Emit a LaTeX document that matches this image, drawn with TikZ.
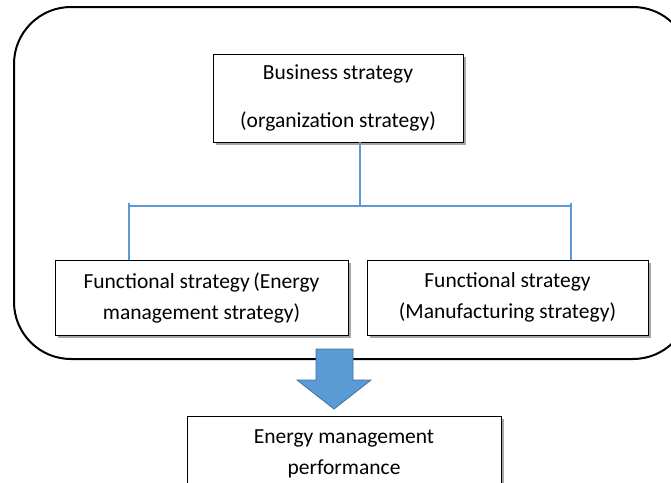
\documentclass[tikz,border=0pt]{standalone}
\usepackage{fontspec}
\setmainfont{Carlito}
\usepackage{xcolor}
\usetikzlibrary{positioning, shadows, arrows.meta}

\definecolor{lineblue}{HTML}{5B9BD5}
\definecolor{arrowedge}{HTML}{41719C}

\tikzset{
  stratbox/.style={draw=black, thick, fill=white, align=center, inner sep=0pt,
    font=\fontsize{21.5}{31}\selectfont,
    drop shadow={shadow xshift=3pt, shadow yshift=-3pt, fill=black, opacity=0.35}},
  conn/.style={draw=lineblue, line width=2pt}
}

\begin{document}
\begin{tikzpicture}[x=1pt, y=-1pt]
      \useasboundingbox (0,0) rectangle (671,482);

      % outer frame
      \draw[line width=2pt, rounded corners=57pt] (14,7) rectangle (690,359);

      \node[stratbox, minimum width=250pt, minimum height=88pt] (biz) at (338,98)
        {Business strategy\\[17pt](organization strategy)};

      \node[stratbox, minimum width=293pt, minimum height=75pt] (energy) at (201.5,297.5)
        {Functional strategy\,(Energy\\management strategy)};
      \node[stratbox, minimum width=281pt, minimum height=75pt] (manu) at (507.5,297.5)
        {Functional strategy\\(Manufacturing strategy)};

      \node[stratbox, minimum width=314pt, minimum height=74pt, anchor=north] (perf) at (344,416)
        {Energy management\\performance};

      % tree connectors
      \coordinate (jn) at (360,206);
      \coordinate (jl) at (129,206);
      \coordinate (jr) at (571,206);
      \draw[conn] (biz.south -| jn) -- (jn);
      \draw[conn] (jl) -- (jr);
      \draw[conn] ([yshift=3pt]jl) -- (jl |- energy.north);
      \draw[conn] ([yshift=3pt]jr) -- (jr |- manu.north);

      % block arrow
      \draw[fill=lineblue, draw=arrowedge, thick]
        (316,349) -- (353,349) -- (353,380) -- (371,380) -- (334,409)
        -- (297,380) -- (316,380) -- cycle;
    \end{tikzpicture}
\end{document}
